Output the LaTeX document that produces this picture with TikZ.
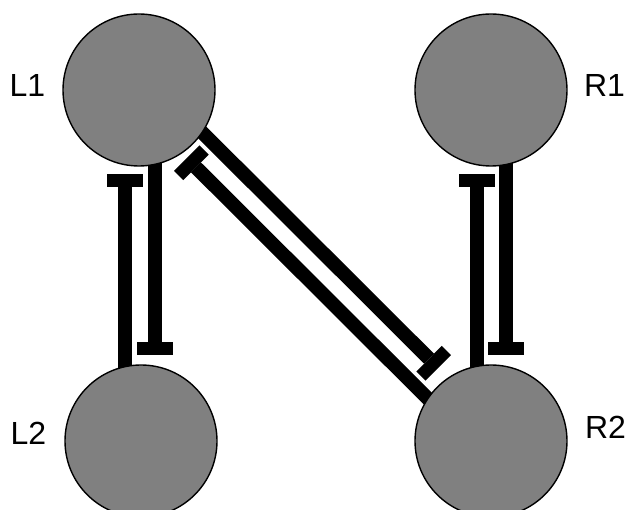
\documentclass[tikz,border=0pt]{standalone}
\usepackage{fontspec}
\setmainfont{Liberation Sans}
\usetikzlibrary{arrows.meta,backgrounds,calc}
\begin{document}
\begin{tikzpicture}[x=1pt,y=-1pt,
  cell/.style={circle,draw=black,line width=1.4pt,fill=gray,minimum size=152pt,inner sep=0pt},
  lab/.style={font=\fontsize{32}{36}\selectfont,inner sep=0pt},
  inhib/.style={line width=14pt,-{Rectangle[length=13pt,width=36pt,line width=0pt]}}
]
\useasboundingbox (0,0) rectangle (627,510);
\node[cell] (L1) at (139,90) {};
\node[cell] (R1) at (491,90) {};
\node[cell] (L2) at (141,441) {};
\node[cell] (R2) at (491,441) {};
\node[lab] (tL1) at (27.5,85) {L1};
\node[lab] (tR1) at (604.5,85) {R1};
\node[lab] (tL2) at (28.5,433.5) {L2};
\node[lab] (tR2) at (605.5,427) {R2};
\begin{scope}[on background layer]
  \draw[inhib,shorten >=84pt] ($(L2.center)+(-16,0)$) -- ($(L1.center)+(-14,0)$);
  \draw[inhib,shorten >=85.5pt] ($(L1.center)+(16,0)$) -- ($(L2.center)+(14,0)$);
  \draw[inhib,shorten >=84pt] ($(R2.center)+(-14.5,0)$) -- ($(R1.center)+(-14.5,0)$);
  \draw[inhib,shorten >=85.5pt] ($(R1.center)+(15,0)$) -- ($(R2.center)+(15,0)$);
  \draw[inhib,shorten >=89pt] ($(L1.center)+(10.3,-10.3)$) -- ($(R2.center)+(10.3,-10.3)$);
  \draw[inhib,shorten >=82pt] ($(R2.center)+(-10.3,10.3)$) -- ($(L1.center)+(-10.3,10.3)$);
\end{scope}
\end{tikzpicture}
\end{document}
